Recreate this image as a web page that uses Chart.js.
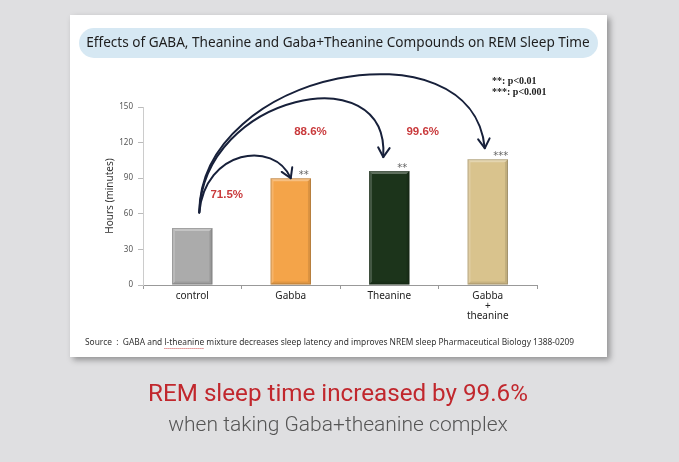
<!DOCTYPE html>
<html>
<head>
<meta charset="utf-8">
<script src="https://cdn.jsdelivr.net/npm/chart.js@4.4.1/dist/chart.umd.min.js"></script>
<style>
  html, body { margin: 0; padding: 0; background: #dfdfe1; }
  canvas { display: block; }
</style>
</head>
<body>
<canvas id="chart" width="679" height="462"></canvas>
<script>
// values
const categories = ['control', 'Gabba', 'Theanine', ['Gabba', '+', 'theanine']];
const sleepMinutes = [48, 90, 96, 106];
const barColors = ['#ababab', '#f4a449', '#1c341b', '#d9c38d'];
const stars = ['', '**', '**', '***'];
const increases = ['71.5%', '88.6%', '99.6%'];
const yTicks = [0, 30, 60, 90, 120, 150];

const titleText = 'Effects of GABA, Theanine and Gaba+Theanine Compounds on REM Sleep Time';
const sourceText = 'Source  :  GABA and l-theanine mixture decreases sleep latency and improves NREM sleep Pharmaceutical Biology 1388-0209';

const roundRect = (ctx, x, y, w, h, r) => {
    ctx.beginPath();
    ctx.moveTo(x + r, y);
    ctx.arcTo(x + w, y, x + w, y + h, r);
    ctx.arcTo(x + w, y + h, x, y + h, r);
    ctx.arcTo(x, y + h, x, y, r);
    ctx.arcTo(x, y, x + w, y, r);
    ctx.closePath();
};

const backdrop = {
    id: 'backdrop',
    beforeDraw(chart) {
        const ctx = chart.ctx;
        ctx.save();
        ctx.fillStyle = '#dfdfe1';
        ctx.fillRect(0, 0, chart.width, chart.height);
        // card
        ctx.shadowColor = 'rgba(0,0,0,0.35)';
        ctx.shadowBlur = 6;
        ctx.shadowOffsetX = 3;
        ctx.shadowOffsetY = 3;
        ctx.fillStyle = '#ffffff';
        ctx.fillRect(70, 15, 537, 342);
        ctx.shadowColor = 'transparent';
        // title pill
        ctx.fillStyle = '#d6e8f3';
        roundRect(ctx, 79, 28, 519, 30, 15);
        ctx.fill();
        ctx.fillStyle = '#1e1e1e';
        ctx.font = '13.6px "Noto Sans", sans-serif';
        ctx.textAlign = 'center';
        ctx.textBaseline = 'middle';
        ctx.fillText(titleText, 338, 43);
        ctx.restore();
    },
    afterDraw(chart) {
        const ctx = chart.ctx;
        ctx.save();
        // significance key
        ctx.fillStyle = '#222';
        ctx.font = 'bold 10px "Liberation Serif", serif';
        ctx.textAlign = 'left';
        ctx.textBaseline = 'middle';
        ctx.fillText('**: p<0.01', 492, 81);
        ctx.fillText('***: p<0.001', 492, 92);
        // source line
        ctx.fillStyle = '#333';
        ctx.font = '8.4px "Noto Sans", sans-serif';
        ctx.fillText(sourceText, 85, 343);
        const pre = ctx.measureText('Source  :  GABA and ').width;
        const w = ctx.measureText('l-theanine').width;
        ctx.strokeStyle = '#d05050';
        ctx.setLineDash([1, 1]);
        ctx.lineWidth = 1;
        ctx.beginPath();
        ctx.moveTo(85 + pre, 348.5);
        ctx.lineTo(85 + pre + w, 348.5);
        ctx.stroke();
        ctx.setLineDash([]);
        // caption under the card
        ctx.textAlign = 'center';
        ctx.fillStyle = '#c1272d';
        ctx.font = '24.2px Roboto, sans-serif';
        ctx.fillText('REM sleep time increased by 99.6%', 338, 395);
        ctx.fillStyle = '#555';
        ctx.font = '300 21px Roboto, sans-serif';
        ctx.fillText('when taking Gaba+theanine complex', 338, 426);
        ctx.restore();
    },
    afterDatasetsDraw(chart) {
        const ctx = chart.ctx;
        const xs = chart.scales.x, ys = chart.scales.y;
        const bars = chart.getDatasetMeta(0).data;
        ctx.save();
        // soft bevel on the bars
        bars.forEach((bar) => {
            const l = bar.x - bar.width / 2, r = bar.x + bar.width / 2, t = bar.y, b = bar.base, e = 3;
            const side = (pts, col) => {
                ctx.fillStyle = col;
                ctx.beginPath();
                ctx.moveTo(pts[0][0], pts[0][1]);
                pts.slice(1).forEach(p => ctx.lineTo(p[0], p[1]));
                ctx.closePath();
                ctx.fill();
            };
            side([[l, t], [r, t], [r - e, t + e], [l + e, t + e]], 'rgba(255,255,255,0.3)');
            side([[l, t], [l + e, t + e], [l + e, b - e], [l, b]], 'rgba(255,255,255,0.18)');
            side([[r, t], [r, b], [r - e, b - e], [r - e, t + e]], 'rgba(0,0,0,0.1)');
            side([[l, b], [l + e, b - e], [r - e, b - e], [r, b]], 'rgba(0,0,0,0.08)');
            ctx.strokeStyle = 'rgba(0,0,0,0.18)';
            ctx.lineWidth = 1;
            ctx.strokeRect(l + 0.5, t + 0.5, bar.width - 1, b - t - 1);
        });
        // stars above bars
        ctx.fillStyle = '#666';
        ctx.font = '10px "DejaVu Sans", sans-serif';
        ctx.textAlign = 'center';
        ctx.textBaseline = 'bottom';
        bars.forEach((bar, i) => {
            if (stars[i]) ctx.fillText(stars[i], bar.x + 13, bar.y + 2);
        });
        // arrows from the control bar
        const sx = xs.getPixelForValue(0) + 7, sy = ys.getPixelForValue(61);
        const arcs = [
            { tip: [bars[1].x, bars[1].y], c1: [sx + 6, sy - 63], c2: [bars[1].x - 17, sy - 73] },
            { tip: [bars[2].x - 6, bars[2].y - 14], c1: [sx + 4, sy - 118], c2: [bars[2].x + 1, sy - 158] },
            { tip: [bars[3].x - 3, bars[3].y - 11], c1: [sx + 1, sy - 143], c2: [bars[3].x - 15, sy - 193] }
        ];
        ctx.strokeStyle = '#17203a';
        ctx.lineWidth = 2;
        ctx.lineCap = 'round';
        arcs.forEach(a => {
            ctx.beginPath();
            ctx.moveTo(sx, sy);
            ctx.bezierCurveTo(a.c1[0], a.c1[1], a.c2[0], a.c2[1], a.tip[0], a.tip[1]);
            ctx.stroke();
            const ang = Math.atan2(a.tip[1] - a.c2[1], a.tip[0] - a.c2[0]);
            ctx.beginPath();
            [ang + Math.PI - 0.55, ang + Math.PI + 0.55].forEach(t => {
                ctx.moveTo(a.tip[0], a.tip[1]);
                ctx.lineTo(a.tip[0] + 11 * Math.cos(t), a.tip[1] + 11 * Math.sin(t));
            });
            ctx.stroke();
        });
        // percentage labels
        ctx.fillStyle = '#c93a3c';
        ctx.font = 'bold 11.5px "Liberation Sans", sans-serif';
        ctx.textBaseline = 'middle';
        const spots = [[0.35, 76], [1.2, 129], [2.34, 129]];
        increases.forEach((txt, i) => {
            ctx.fillText(txt, xs.getPixelForValue(spots[i][0]), ys.getPixelForValue(spots[i][1]));
        });
        ctx.restore();
    }
};

new Chart(document.getElementById('chart'), {
    type: 'bar',
    data: {
        labels: categories,
        datasets: [{
            data: sleepMinutes,
            backgroundColor: barColors,
            borderWidth: 0,
            barPercentage: 0.41,
            categoryPercentage: 1
        }]
    },
    options: {
        responsive: false,
        animation: false,
        devicePixelRatio: 1,
        layout: { padding: { left: 98, right: 142, top: 107, bottom: 127 } },
        plugins: { legend: { display: false }, tooltip: { enabled: false } },
        scales: {
            x: {
                afterFit: s => { s.height = 50; },
                grid: { offset: true, drawOnChartArea: false, tickLength: 4, color: '#999' },
                border: { color: '#999' },
                ticks: { color: '#222', padding: 2, font: { size: 10, family: '"Noto Sans", sans-serif', lineHeight: 1.0 } }
            },
            y: {
                min: yTicks[0],
                max: yTicks[yTicks.length - 1],
                afterFit: s => { s.width = 45; },
                afterBuildTicks: s => { s.ticks = yTicks.map(v => ({ value: v })); },
                grid: { drawOnChartArea: false, tickLength: 5, color: '#bbb' },
                border: { color: '#ccc' },
                ticks: { color: '#555', padding: 5, font: { size: 8, family: '"Noto Sans", sans-serif' } },
                title: {
                    display: true,
                    text: 'Hours (minutes)',
                    color: '#333',
                    padding: { top: 6, bottom: 4 },
                    font: { size: 10, family: '"Noto Sans", sans-serif' }
                }
            }
        }
    },
    plugins: [backdrop]
});
</script>
</body>
</html>
